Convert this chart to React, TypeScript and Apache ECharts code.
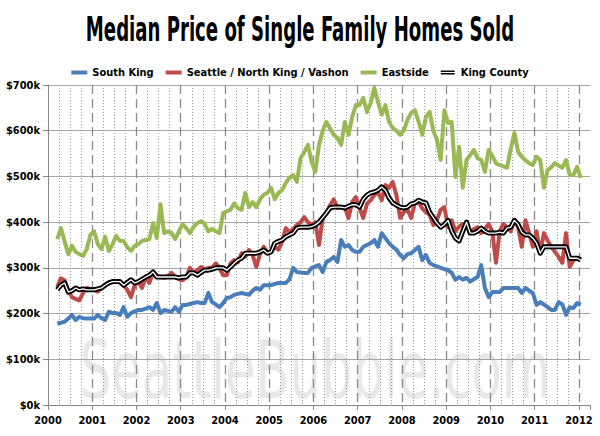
import { useEffect, useRef } from 'react';
import * as echarts from 'echarts';

// Monthly medians, thousands of dollars, March 2000 – January 2012
const startYear = 2000;
const startMonth = 2; // March (0 = January)

const southKing = [
  179, 180, 182, 189, 197, 186, 193, 190, 189, 189,
  189, 197, 190, 186, 204, 201, 201, 197, 214, 193, 201, 205,
  208, 208, 211, 214, 208, 223, 201, 208, 206, 204, 214, 204,
  219, 219, 221, 223, 225, 223, 223, 245, 225, 220, 214, 223,
  234, 236, 241, 243, 245, 243, 241, 250, 256, 252, 262, 262,
  262, 265, 267, 267, 267, 275, 300, 291, 290, 289, 289, 300,
  303, 306, 291, 313, 317, 324, 313, 361, 346, 350, 339, 335,
  335, 346, 350, 354, 361, 346, 376, 365, 354, 346, 340, 328,
  321, 330, 332, 339, 346, 317, 328, 311, 306, 303, 300, 297,
  295, 289, 274, 280, 274, 278, 270, 275, 280, 306, 256, 236,
  247, 247, 247, 256, 256, 256, 256, 256, 245, 256, 250, 245,
  219, 225, 220, 214, 208, 208, 225, 220, 197, 214, 212, 223,
  219,
];

const seattle = [
  258, 277, 273, 250, 236, 232, 229, 245, 256, 254,
  252, 248, 256, 262, 268, 270, 270, 268, 262, 252, 236, 262,
  270, 256, 280, 267, 291, 284, 280, 278, 282, 289, 280, 275,
  273, 280, 300, 289, 295, 302, 296, 300, 300, 310, 300, 284,
  284, 310, 317, 312, 332, 324, 339, 328, 302, 330, 346, 335,
  335, 346, 340, 357, 387, 378, 385, 394, 400, 411, 400, 394,
  400, 350, 409, 420, 437, 450, 431, 433, 433, 409, 444, 455,
  431, 409, 440, 448, 459, 466, 448, 481, 475, 488, 459, 409,
  422, 427, 409, 442, 444, 430, 422, 416, 394, 405, 427, 433,
  389, 404, 380, 390, 396, 396, 376, 385, 389, 376, 385, 396,
  380, 311, 380, 396, 388, 380, 404, 389, 346, 404, 375, 346,
  380, 332, 376, 360, 346, 335, 324, 311, 376, 302, 317, 320,
  324,
];

const eastside = [
  363, 387, 358, 330, 348, 335, 330, 326, 341, 372,
  380, 352, 341, 368, 337, 352, 370, 359, 359, 345, 337, 348,
  352, 359, 361, 363, 398, 365, 439, 376, 380, 376, 363, 380,
  396, 387, 376, 390, 398, 402, 396, 380, 385, 380, 376, 420,
  424, 427, 441, 430, 427, 464, 433, 444, 433, 450, 460, 464,
  475, 450, 464, 470, 486, 497, 503, 488, 540, 553, 569, 532,
  510, 569, 600, 619, 605, 591, 584, 569, 619, 591, 630, 656,
  656, 672, 641, 660, 694, 663, 635, 656, 619, 606, 600, 591,
  600, 624, 639, 645, 620, 591, 630, 641, 600, 580, 536, 645,
  617, 619, 499, 565, 475, 536, 547, 558, 540, 536, 510, 558,
  545, 529, 525, 522, 519, 560, 595, 554, 543, 535, 529, 525,
  543, 536, 475, 514, 520, 529, 524, 519, 536, 503, 503, 521,
  497,
];

const kingCounty = [
  252, 262, 267, 247, 250, 256, 252, 254, 252, 252,
  252, 254, 256, 262, 267, 270, 270, 270, 262, 268, 274, 267,
  270, 275, 280, 284, 291, 280, 280, 280, 280, 280, 280, 278,
  280, 280, 289, 289, 284, 290, 295, 295, 297, 300, 300, 300,
  295, 302, 310, 317, 321, 332, 332, 332, 332, 335, 339, 332,
  335, 354, 358, 361, 368, 372, 376, 387, 389, 389, 389, 390,
  394, 400, 410, 420, 431, 433, 433, 433, 431, 435, 438, 438,
  433, 450, 459, 464, 466, 470, 477, 470, 453, 442, 437, 433,
  431, 433, 440, 442, 448, 444, 442, 422, 410, 398, 389, 395,
  404, 380, 365, 359, 380, 400, 376, 376, 380, 387, 380, 376,
  376, 376, 378, 376, 387, 389, 404, 395, 378, 372, 372, 365,
  354, 332, 346, 346, 346, 346, 346, 346, 346, 321, 321, 321,
  317,
];

const seriesNames = ['South King', 'Seattle / North King / Vashon', 'Eastside', 'King County'];
const seriesColors = ['#4a7ebb', '#be4b48', '#98b954', '#000000'];
const titleText = 'Median Price of Single Family Homes Sold';
const watermarkText = 'SeattleBubble.com';
const yMin = 0;
const yMax = 700;
const yStep = 100;
const xMin = 2000;
const xMax = 2012.25;

const FONT = "'DejaVu Sans Condensed', 'Liberation Sans Narrow', sans-serif";

function toPoints(vals: number[]) {
  return vals.map((v, i) => [startYear + (startMonth + i + 0.5) / 12, v]);
}

export default function App() {
  const ref = useRef<HTMLDivElement>(null);
  useEffect(() => {
    if (!ref.current) return;
    const chart = echarts.init(ref.current, null, { renderer: 'svg' });
    const lineSeries = (name: string, data: number[], color: string, width: number, z: number) => ({
      name,
      type: 'line',
      data: toPoints(data),
      showSymbol: false,
      symbol: 'none',
      z,
      lineStyle: { color, width, join: 'round' },
      itemStyle: { color },
      emphasis: { disabled: true },
    });
    chart.setOption({
      animation: false,
      backgroundColor: '#ffffff',
      graphic: [
        {
          type: 'text',
          x: 315,
          y: 370,
          scaleX: 0.69,
          z: -10,
          silent: true,
          style: {
            text: watermarkText,
            fontSize: 80,
            fontFamily: FONT,
            fill: '#e8e8e8',
            align: 'center',
            verticalAlign: 'middle',
          },
        },
        {
          type: 'text',
          x: 300,
          y: 30,
          scaleX: 0.61,
          style: {
            text: titleText,
            fontSize: 33,
            fontWeight: 'bold',
            fontFamily: FONT,
            fill: '#000',
            align: 'center',
            verticalAlign: 'middle',
          },
        },
      ],
      legend: {
        top: 62,
        left: 'center',
        itemWidth: 16,
        itemHeight: 4,
        itemGap: 12,
        textStyle: { fontFamily: FONT, fontWeight: 'bold', fontSize: 11, color: '#000' },
        data: [
          { name: seriesNames[0], icon: 'rect' },
          { name: seriesNames[1], icon: 'rect' },
          { name: seriesNames[2], icon: 'rect' },
          { name: seriesNames[3], icon: 'path://M0,0H16V1.6H0ZM0,3H16V4.6H0Z', itemStyle: { color: '#000' } },
        ],
      },
      grid: { left: 48, right: 10, top: 85, bottom: 31 },
      xAxis: {
        type: 'value',
        min: xMin,
        max: xMax,
        interval: 1,
        axisLine: { show: true, lineStyle: { color: '#888' } },
        axisTick: { show: true, length: 5, lineStyle: { color: '#888' } },
        axisLabel: {
          formatter: (v: number) => (Number.isInteger(v) ? String(v) : ''),
          fontFamily: FONT,
          fontWeight: 'bold',
          fontSize: 11,
          color: '#000',
          margin: 10,
        },
        splitLine: {
          show: true,
          showMinLine: false,
          showMaxLine: false,
          lineStyle: { type: [9, 5], color: '#8a8a8a', width: 1.3 },
        },
        minorTick: { show: false, splitNumber: 4 },
        minorSplitLine: { show: true, lineStyle: { type: [1, 2], color: '#9a9a9a', width: 1 } },
      },
      yAxis: {
        type: 'value',
        min: yMin,
        max: yMax,
        interval: yStep,
        axisLine: { show: true, lineStyle: { color: '#888' } },
        axisTick: { show: true, length: 5, lineStyle: { color: '#888' } },
        axisLabel: {
          formatter: (v: number) => `$${v}k`,
          fontFamily: FONT,
          fontWeight: 'bold',
          fontSize: 11,
          color: '#000',
          margin: 8,
        },
        splitLine: { show: true, lineStyle: { color: '#a6a6a6', width: 1 } },
      },
      series: [
        lineSeries(seriesNames[0], southKing, seriesColors[0], 4, 2),
        lineSeries(seriesNames[1], seattle, seriesColors[1], 4, 3),
        lineSeries(seriesNames[2], eastside, seriesColors[2], 4, 4),
        lineSeries(seriesNames[3], kingCounty, seriesColors[3], 5, 5),
        lineSeries(seriesNames[3], kingCounty, '#ffffff', 1.3, 6),
      ],
    });
    return () => chart.dispose();
  }, []);
  return (
    <div
      ref={ref}
      style={{ position: 'fixed', left: 0, top: 0, width: 600, height: 436, background: '#fff' }}
    />
  );
}
